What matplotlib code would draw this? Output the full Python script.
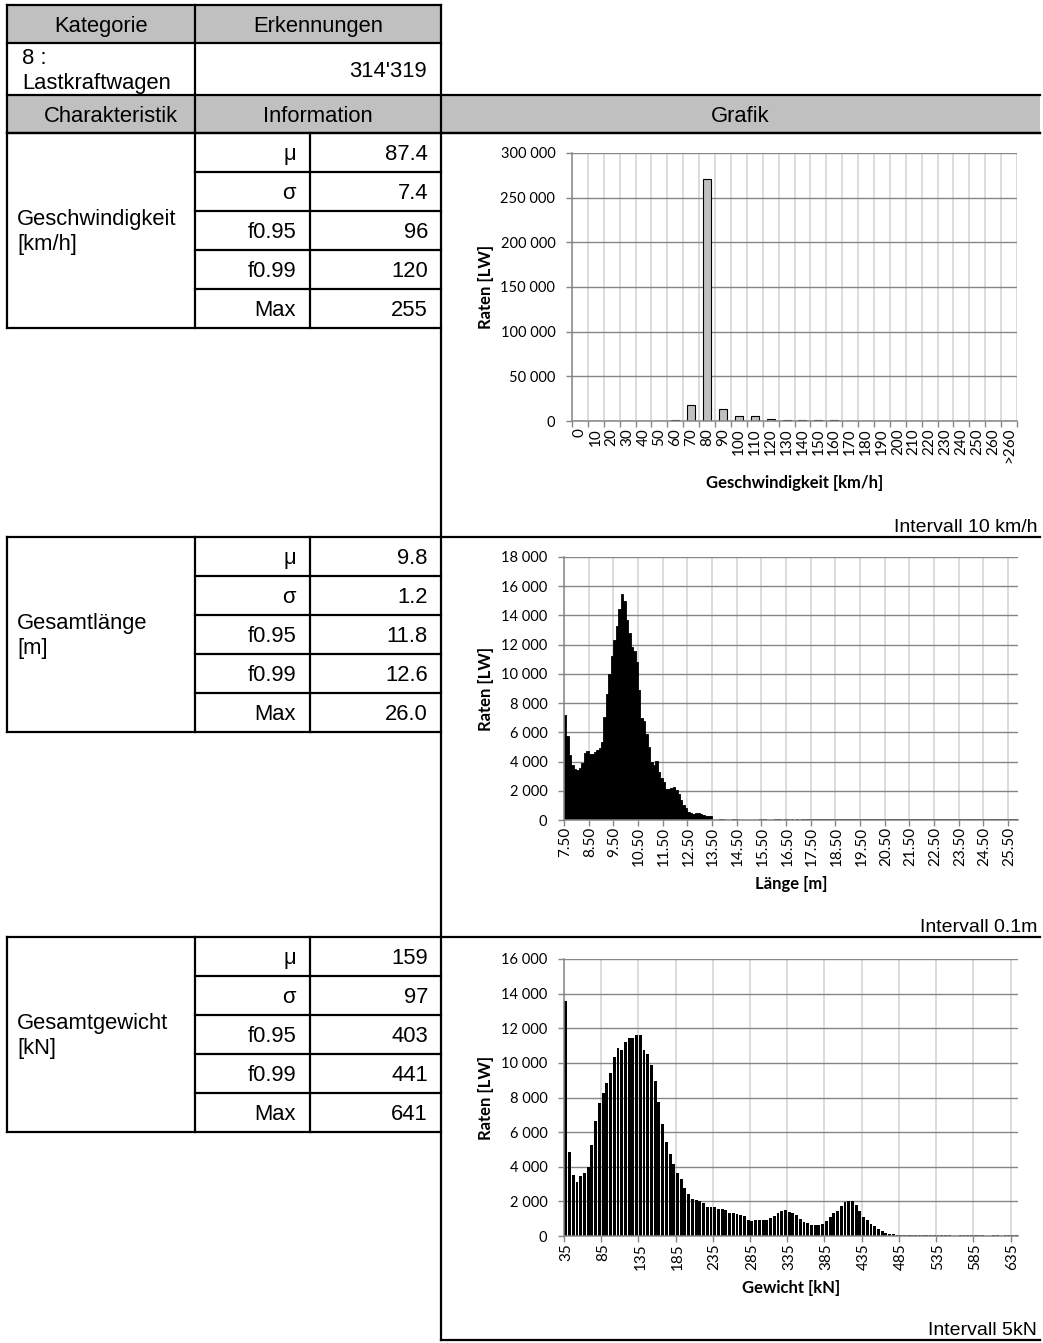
import numpy as np
import matplotlib
matplotlib.use('Agg')
import matplotlib.pyplot as plt
from matplotlib.ticker import FuncFormatter

W, H = 1043, 1343

# table content
header_top = ['Kategorie', 'Erkennungen']
category_name = ['8 :', 'Lastkraftwagen']
detections = "314'319"
header_mid = ['Charakteristik', 'Information', 'Grafik']
stat_names = ['μ', 'σ', 'f0.95', 'f0.99', 'Max']
section_names = [('Geschwindigkeit', '[km/h]'), ('Gesamtlänge', '[m]'), ('Gesamtgewicht', '[kN]')]
speed_stats = ['87.4', '7.4', '96', '120', '255']
length_stats = ['9.8', '1.2', '11.8', '12.6', '26.0']
weight_stats = ['159', '97', '403', '441', '641']
intervals = ['Intervall 10 km/h', 'Intervall 0.1m', 'Intervall 5kN']

# chart 1: speed, 10 km/h classes
speed_labels = ['0', '10', '20', '30', '40', '50', '60', '70', '80', '90', '100', '110', '120', '130',
                '140', '150', '160', '170', '180', '190', '200', '210', '220', '230', '240', '250',
                '260', '>260']
speed_counts = [500, 500, 500, 500, 500, 500, 600, 18300, 271000, 13800, 5200, 6000, 2200, 800,
                700, 600, 600, 500, 500, 400, 400, 400, 300, 300, 300, 300, 0, 0]

# chart 2: length, 0.1 m classes from 7.5 m
length_ticks = ['7.50', '8.50', '9.50', '10.50', '11.50', '12.50', '13.50', '14.50', '15.50', '16.50',
                '17.50', '18.50', '19.50', '20.50', '21.50', '22.50', '23.50', '24.50', '25.50']
length_counts = [
    7200, 5750, 4450, 3750, 3500, 3450, 3550, 3900, 4600, 4700,
    4550, 4550, 4650, 4800, 4900, 5350, 7050, 8600, 10000, 11200,
    12350, 13300, 14450, 15450, 15000, 13700, 12800, 11850, 11550, 10800,
    8900, 7000, 6800, 5900, 5000, 4000, 3750, 4050, 3300, 2900,
    2600, 2150, 2100, 2200, 2250, 2050, 1800, 1400, 1050, 800,
    550, 450, 400, 450, 500, 400, 350, 300, 280, 250,
    0, 0, 0, 40, 50, 0, 0, 0, 40, 50,
    0, 0, 0, 0, 0, 0, 0, 0, 0, 40,
    50, 40, 0, 0, 0, 40, 50, 50, 0, 40,
    50, 0, 40, 0, 40, 0, 40, 50, 60, 60,
    70, 60, 60, 70, 60, 60, 70, 60, 50, 60,
    60, 70, 60, 60, 50, 60, 60, 70, 60, 60,
    60, 60, 50, 60, 70, 60, 60, 50, 60, 60,
    70, 60, 60, 60, 50, 60, 60, 70, 60, 60,
    50, 60, 60, 70, 60, 60, 50, 60, 60, 60,
    70, 60, 60, 50, 60, 60, 70, 60, 60, 50,
    60, 60, 70, 60, 60, 50, 60, 60, 60, 70,
    60, 60, 50, 60, 60, 70, 60, 60, 50, 60,
    60, 70, 60, 50]

# chart 3: weight, 5 kN classes from 35 kN
weight_ticks = ['35', '85', '135', '185', '235', '285', '335', '385', '435', '485', '535', '585', '635']
weight_counts = [
    13600, 4870, 3500, 3100, 3470, 3660, 3970, 5260, 6670, 7710,
    8280, 8820, 9400, 10350, 10850, 10750, 11200, 11450, 11450, 11600,
    11600, 10750, 10500, 9850, 8950, 7750, 6450, 5450, 4750, 4150,
    3650, 3300, 2750, 2400, 2150, 2100, 2000, 1900, 1700, 1650,
    1700, 1550, 1550, 1500, 1350, 1300, 1250, 1200, 1150, 900,
    870, 900, 900, 900, 950, 1050, 1150, 1300, 1450, 1500,
    1400, 1350, 1200, 1000, 800, 750, 650, 620, 620, 700,
    850, 1100, 1300, 1450, 1750, 1950, 2050, 2000, 1800, 1450,
    1100, 900, 700, 580, 400, 280, 180, 120, 90, 70,
    50, 40, 30, 40, 30, 40, 30, 30, 40, 30,
    30, 40, 30, 30, 0, 0, 30, 30, 40, 30,
    30, 40, 30, 0, 0, 30, 30, 0, 30, 30,
    30, 40]

TFONT = 'Liberation Sans'
CFONT = 'Lato'
TSIZE = 15.8
GRAY_FILL = '#c0c0c0'
AXIS_GRAY = '#868686'
GRID_LIGHT = '#d9d9d9'

fig = plt.figure(figsize=(W / 100, H / 100), dpi=100)
bg = fig.add_axes([0, 0, 1, 1])
bg.set_xlim(0, W)
bg.set_ylim(H, 0)
bg.axis('off')


def hline(y, x0, x1):
    bg.plot([x0, x1], [y, y], color='black', lw=1.6, solid_capstyle='projecting')


def vline(x, y0, y1):
    bg.plot([x, x], [y0, y1], color='black', lw=1.6, solid_capstyle='projecting')


def ttext(x, y, s, ha='left', size=TSIZE):
    bg.text(x, y, s, ha=ha, va='baseline', fontsize=size, family=TFONT, color='black')


# header rows
bg.add_patch(plt.Rectangle((7, 5), 434, 38, color=GRAY_FILL, lw=0))
bg.add_patch(plt.Rectangle((7, 95), 1033, 38, color=GRAY_FILL, lw=0))
hline(5, 7, 441)
hline(43, 7, 441)
hline(95, 7, 1040)
hline(133, 7, 1040)
vline(7, 5, 133)
vline(195, 5, 133)
vline(441, 5, 1340)

ttext(101, 32, header_top[0], ha='center')
ttext(318, 32, header_top[1], ha='center')
ttext(22, 64, category_name[0])
ttext(22, 89, category_name[1])
ttext(427, 77, detections, ha='right')
ttext(111, 122, header_mid[0], ha='center')
ttext(318, 122, header_mid[1], ha='center')
ttext(740, 122, header_mid[2], ha='center')

# statistic blocks
sec_tops = [133, 537, 937]
sec_bottoms = [537, 937, 1340]
all_stats = [speed_stats, length_stats, weight_stats]
for top, bottom, names, stats, note in zip(sec_tops, sec_bottoms, section_names, all_stats, intervals):
    row_h = 39
    sub_bottom = top + 5 * row_h
    hline(top, 7, 1040)
    hline(sub_bottom, 7, 441)
    for k in range(1, 5):
        hline(top + k * row_h, 195, 441)
    vline(7, top, sub_bottom)
    vline(195, top, sub_bottom)
    vline(310, top, sub_bottom)
    ttext(17, top + 92.5, names[0])
    ttext(17, top + 117, names[1])
    for k, (nm, val) in enumerate(zip(stat_names, stats)):
        ttext(296, top + k * row_h + 27, nm, ha='right')
        ttext(428, top + k * row_h + 27, val, ha='right')
    ttext(1037, bottom - 5, note, ha='right', size=14)
hline(1340, 441, 1040)


def chart_axes(left, top, right, bottom):
    return fig.add_axes([left / W, 1 - bottom / H, (right - left) / W, (bottom - top) / H])


def style(ax, box, ymax, ystep, xlabel, xlabel_y):
    left, top, right, bottom = box
    ax.set_ylim(0, ymax)
    ax.set_yticks(np.arange(0, ymax + 1, ystep))
    ax.yaxis.set_major_formatter(FuncFormatter(lambda v, p: f'{int(v):,}'.replace(',', ' ')))
    for s in ['top', 'right']:
        ax.spines[s].set_visible(False)
    for s in ['left', 'bottom']:
        ax.spines[s].set_color(AXIS_GRAY)
        ax.spines[s].set_linewidth(1.1)
    ax.set_axisbelow(True)
    ax.yaxis.grid(True, color=AXIS_GRAY, lw=1.0)
    ax.xaxis.grid(True, which='minor', color=GRID_LIGHT, lw=1.3)
    ax.tick_params(axis='y', length=4, width=1, color=AXIS_GRAY, pad=8, labelsize=10.5)
    ax.tick_params(axis='x', which='major', length=0, pad=5, labelsize=11, labelrotation=90)
    ax.tick_params(axis='x', which='minor', length=4, width=1, color=AXIS_GRAY)
    for lab in ax.get_xticklabels() + ax.get_yticklabels():
        lab.set_family(CFONT)
    ax.set_ylabel('Raten [LW]', family=CFONT, fontsize=12, fontweight='bold', va='center')
    ax.yaxis.set_label_coords((486 - left) / (right - left), 0.5)
    ax.set_xlabel(xlabel, family=CFONT, fontsize=12, fontweight='bold', va='center')
    ax.xaxis.set_label_coords(0.5, -(xlabel_y - bottom) / (bottom - top))


# chart 1
box1 = (572, 153, 1017, 421)
ax1 = chart_axes(*box1)
x1 = np.arange(len(speed_counts))
ax1.bar(x1, speed_counts, width=0.5, color=GRAY_FILL, edgecolor='black', linewidth=0.8)
ax1.set_xlim(-0.5, len(speed_counts) - 0.5)
ax1.set_xticks(x1, speed_labels)
ax1.set_xticks(np.arange(-0.5, len(speed_counts), 1), minor=True)
style(ax1, box1, 300000, 50000, 'Geschwindigkeit [km/h]', 483)

# chart 2
box2 = (564, 557, 1018, 820)
ax2 = chart_axes(*box2)
x2 = np.arange(len(length_counts))
ax2.bar(x2, length_counts, width=1.0, color='black', edgecolor='black', linewidth=0.6)
ax2.set_xlim(-0.5, len(length_counts) - 0.5)
ax2.set_xticks(np.arange(0, len(length_counts), 10), length_ticks)
ax2.set_xticks(np.arange(-0.5, len(length_counts), 10), minor=True)
style(ax2, box2, 18000, 2000, 'Länge [m]', 884)

# chart 3
box3 = (564, 959, 1018, 1236)
ax3 = chart_axes(*box3)
x3 = np.arange(len(weight_counts))
ax3.bar(x3, weight_counts, width=0.78, color='black', linewidth=0)
ax3.set_xlim(-0.5, len(weight_counts) - 0.5)
ax3.set_xticks(np.arange(0, len(weight_counts), 10), weight_ticks)
ax3.set_xticks(np.arange(-0.5, len(weight_counts), 10), minor=True)
style(ax3, box3, 16000, 2000, 'Gewicht [kN]', 1288)

fig.savefig('out.png', dpi=100)
